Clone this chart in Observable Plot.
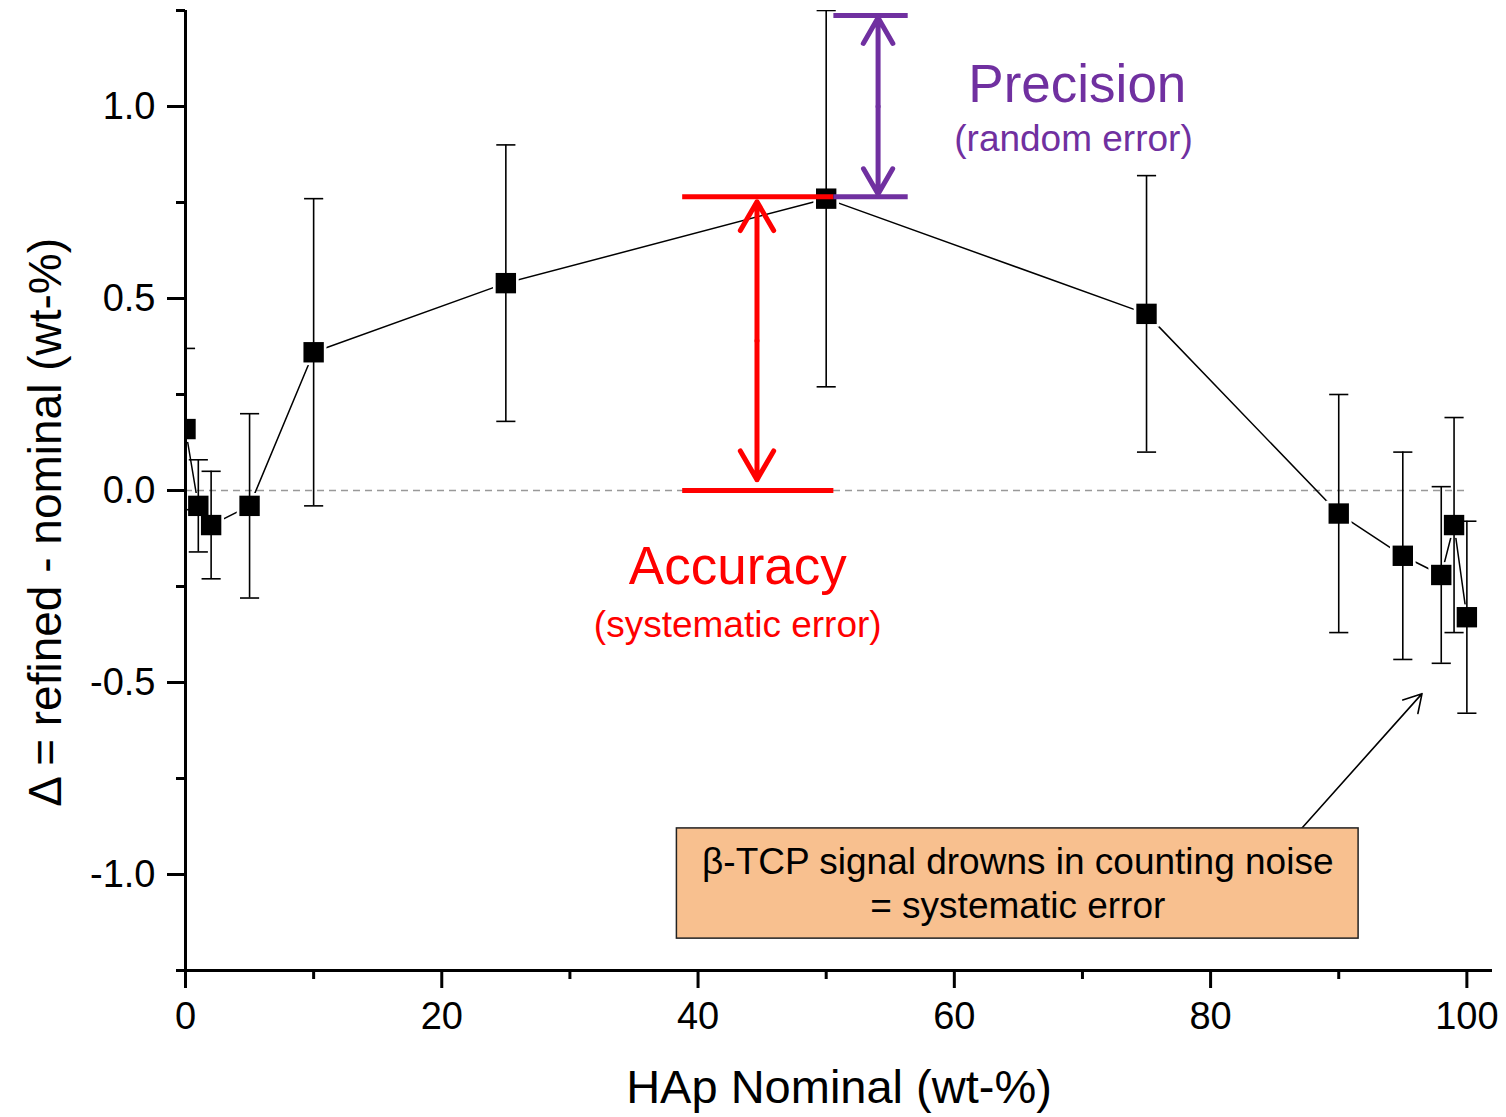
<!DOCTYPE html>
<html>
<head>
<meta charset="utf-8">
<script src="https://cdn.jsdelivr.net/npm/d3@7"></script>
<script src="https://cdn.jsdelivr.net/npm/@observablehq/plot@0.6"></script>
<style>
  html, body { margin: 0; padding: 0; background: #fff; }
  #chart svg { display: block; }
</style>
</head>
<body>
<div id="chart"></div>
<script>
// ---------- data ----------
const hapNominal = [0, 1, 2, 5, 10, 25, 50, 75, 90, 95, 98, 99, 100];
const delta      = [0.16, -0.04, -0.09, -0.04, 0.36, 0.54, 0.76, 0.46, -0.06, -0.17, -0.22, -0.09, -0.33];
const deltaErr   = [0.21, 0.12, 0.14, 0.24, 0.40, 0.36, 0.49, 0.36, 0.31, 0.27, 0.23, 0.28, 0.25];

const xTicks      = [0, 20, 40, 60, 80, 100];
const xMinorTicks = [10, 30, 50, 70, 90];
const yTicks      = [-1, -0.5, 0, 0.5, 1];
const yMinorTicks = [-1.25, -0.75, -0.25, 0.25, 0.75, 1.25];

const xLabel = "HAp Nominal (wt-%)";
const yLabel = "Δ = refined - nominal (wt-%)";

// ---------- annotations (data coordinates) ----------
const accuracyBars   = [{y: 0.765, x1: 38.8, x2: 50.6}, {y: 0, x1: 38.8, x2: 50.6}];
const precisionBars  = [{y: 1.237, x1: 50.6, x2: 56.4}, {y: 0.765, x1: 50.6, x2: 56.4}];
const accuracyArrow  = {x: 44.6, mid: 0.39, tips: [0.752, 0.028]};
const precisionArrow = {x: 54.05, mid: 1.0, tips: [1.231, 0.772]};
const accuracyText   = [{x: 43.1, y: -0.2, text: "Accuracy", size: 53},
                        {x: 43.1, y: -0.35, text: "(systematic error)", size: 37}];
const precisionText  = [{x: 69.6, y: 1.055, text: "Precision", size: 53},
                        {x: 69.3, y: 0.915, text: "(random error)", size: 37}];
const noteBox   = {x1: 38.35, x2: 91.55, y1: -0.880, y2: -1.167};
const noteLines = [{y: -0.968, text: "β-TCP signal drowns in counting noise"},
                   {y: -1.082, text: "= systematic error"}];
const noteArrow = {x1: 87.1, y1: -0.880, x2: 96.5, y2: -0.529};
const yTitlePos = {x: -10.9, y: -0.083};

// ---------- build ----------
const rows = hapNominal.map((x, i) => ({x, y: delta[i], lo: delta[i] - deltaErr[i], hi: delta[i] + deltaErr[i]}));

const capSymbol = {
  draw(context, size) {
    const w = Math.sqrt(size) / 2;
    context.moveTo(-w, 0);
    context.lineTo(w, 0);
  }
};

const RED = "#FF0000", PURPLE = "#7030A0";
const FONT = "'Liberation Sans', Arial, sans-serif";

const chart = Plot.plot({
  width: 1506,
  height: 1117,
  marginLeft: 185,
  marginRight: 14,
  marginTop: 10,
  marginBottom: 147,
  style: {fontFamily: FONT, color: "#000", background: "#fff"},
  x: {domain: [0, 102]},
  y: {domain: [-1.25, 1.25]},
  marks: [
    // zero reference
    Plot.ruleY([0], {x1: 0, x2: 100, stroke: "#999", strokeWidth: 1.5, strokeDasharray: "7,5"}),
    // connecting line
    Plot.line(rows, {x: "x", y: "y", stroke: "#000", strokeWidth: 1.5, clip: true}),
    // white halos around markers (gap in line)
    Plot.dot(rows, {x: "x", y: "y", symbol: "square", r: 14.5, fill: "#fff", clip: true}),
    // error bars
    Plot.ruleX(rows, {x: "x", y1: "lo", y2: "hi", stroke: "#000", strokeWidth: 1.6, clip: true}),
    Plot.dot(rows, {x: "x", y: "hi", symbol: capSymbol, r: 10.8, stroke: "#000", strokeWidth: 1.6, fill: "none", clip: true}),
    Plot.dot(rows, {x: "x", y: "lo", symbol: capSymbol, r: 10.8, stroke: "#000", strokeWidth: 1.6, fill: "none", clip: true}),
    // markers
    Plot.dot(rows, {x: "x", y: "y", symbol: "square", r: 11.5, fill: "#000", stroke: "none", clip: true}),

    // accuracy annotation
    Plot.ruleY(accuracyBars, {y: "y", x1: "x1", x2: "x2", stroke: RED, strokeWidth: 5}),
    Plot.arrow(accuracyArrow.tips, {x1: accuracyArrow.x, x2: accuracyArrow.x, y1: accuracyArrow.mid, y2: d => d,
      stroke: RED, strokeWidth: 5, headLength: 10, headAngle: 60}),
    Plot.text(accuracyText, {x: "x", y: "y", text: "text", fontSize: d => d.size, fill: RED, lineAnchor: "middle"}),
    // precision annotation
    Plot.ruleY(precisionBars, {y: "y", x1: "x1", x2: "x2", stroke: PURPLE, strokeWidth: 5}),
    Plot.arrow(precisionArrow.tips, {x1: precisionArrow.x, x2: precisionArrow.x, y1: precisionArrow.mid, y2: d => d,
      stroke: PURPLE, strokeWidth: 5, headLength: 10, headAngle: 60}),
    Plot.text(precisionText, {x: "x", y: "y", text: "text", fontSize: d => d.size, fill: PURPLE, lineAnchor: "middle"}),

    // note box
    Plot.arrow([noteArrow], {x1: "x1", y1: "y1", x2: "x2", y2: "y2", stroke: "#000", strokeWidth: 1.6, headLength: 19, headAngle: 60}),
    Plot.rect([noteBox], {x1: "x1", x2: "x2", y1: "y1", y2: "y2", fill: "#F8C08F", stroke: "#222", strokeWidth: 1.5}),
    Plot.text(noteLines, {x: (noteBox.x1 + noteBox.x2) / 2, y: "y", text: "text", fontSize: 37, fill: "#000", lineAnchor: "middle"}),

    // axes
    Plot.axisX(xTicks, {tickSize: 18, strokeWidth: 3, tickPadding: 14, fontSize: 38, tickFormat: d => String(d), label: null}),
    Plot.axisX(xMinorTicks, {tickSize: 9, strokeWidth: 3, tickFormat: () => "", label: null}),
    Plot.axisY(yTicks, {tickSize: 18, strokeWidth: 3, tickPadding: 12, fontSize: 38, tickFormat: d => d.toFixed(1), label: null}),
    Plot.axisY(yMinorTicks, {tickSize: 9, strokeWidth: 3, tickFormat: () => "", label: null}),
    Plot.ruleY([-1.25], {stroke: "#000", strokeWidth: 3}),
    Plot.ruleX([0], {stroke: "#000", strokeWidth: 3}),

    // axis titles
    Plot.text([xLabel], {frameAnchor: "bottom", dy: 117, fontSize: 47, fill: "#000", lineAnchor: "middle"}),
    Plot.text([yLabel], {x: yTitlePos.x, y: yTitlePos.y, rotate: -90, fontSize: 46, fill: "#000", lineAnchor: "middle"})
  ]
});

document.getElementById("chart").appendChild(chart);
</script>
</body>
</html>
